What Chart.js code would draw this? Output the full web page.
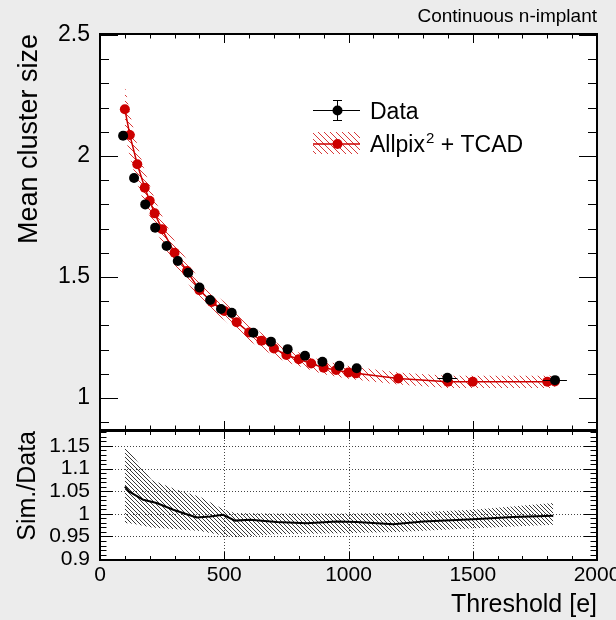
<!DOCTYPE html>
<html>
<head>
<meta charset="utf-8">
<script src="https://cdn.jsdelivr.net/npm/chart.js@4.4.1/dist/chart.umd.min.js"></script>
<style>
  html, body { margin: 0; padding: 0; background: #ececec; }
  #wrap { position: relative; width: 616px; height: 620px; overflow: hidden; font-family: 'Liberation Sans', Arial, sans-serif; }
  canvas { position: absolute; left: 0; top: 0; }
  #label { position: absolute; right: 19px; top: 6px; font-size: 19px; line-height: 19px; color: #000; }
</style>
</head>
<body>
<div id="wrap">
  <canvas id="upper" width="616" height="620"></canvas>
  <canvas id="lower" width="616" height="620"></canvas>
  <div id="label">Continuous n-implant</div>
</div>
<script>
// measured data (threshold in electrons)
const dataX = [93, 137, 182, 222, 268, 313, 355, 400, 443, 487, 530, 617, 688, 755, 825, 895, 963, 1033, 1398, 1831];
const dataY = [2.084, 1.909, 1.800, 1.704, 1.628, 1.566, 1.518, 1.457, 1.405, 1.368, 1.352, 1.270, 1.233, 1.202, 1.175, 1.150, 1.133, 1.123, 1.084, 1.074];
const dataXErr = [0, 0, 0, 0, 0, 0, 0, 0, 0, 0, 0, 8, 10, 12, 14, 14, 15, 16, 40, 48];
const dataYErr = [0.005, 0.005, 0.005, 0.005, 0.005, 0.005, 0.005, 0.005, 0.005, 0.005, 0.005, 0.004, 0.004, 0.004, 0.004, 0.004, 0.004, 0.004, 0.004, 0.004];

// simulation (Allpix^2 + TCAD)
const simX = [100, 120, 150, 180, 200, 220, 250, 300, 350, 400, 450, 500, 550, 600, 650, 700, 750, 800, 850, 900, 950, 1000, 1030, 1200, 1400, 1500, 1800, 1830];
const simY = [2.193, 2.087, 1.966, 1.869, 1.815, 1.763, 1.697, 1.600, 1.525, 1.446, 1.397, 1.360, 1.313, 1.271, 1.237, 1.205, 1.178, 1.160, 1.143, 1.125, 1.116, 1.106, 1.102, 1.081, 1.067, 1.067, 1.067, 1.068];
const simErr = [0.10, 0.09, 0.08, 0.07, 0.065, 0.06, 0.055, 0.05, 0.045, 0.04, 0.04, 0.038, 0.036, 0.034, 0.032, 0.03, 0.03, 0.028, 0.028, 0.027, 0.027, 0.026, 0.026, 0.025, 0.025, 0.025, 0.025, 0.025];

// ratio panel
const ratioX = [100, 118, 174, 228, 295, 349, 389, 443, 496, 543, 604, 711, 832, 952, 1033, 1180, 1301, 1502, 1663, 1824];
const ratioY = [1.060, 1.049, 1.031, 1.024, 1.009, 0.999, 0.992, 0.994, 0.998, 0.985, 0.987, 0.982, 0.979, 0.983, 0.982, 0.977, 0.983, 0.988, 0.993, 0.996];
const bandX = [100, 134, 208, 309, 402, 496, 543, 700, 966, 1200, 1502, 1824];
const bandHi = [1.150, 1.127, 1.075, 1.053, 1.038, 1.010, 1.002, 1.001, 1.001, 1.002, 1.009, 1.024];
const bandLo = [0.980, 0.978, 0.970, 0.966, 0.962, 0.952, 0.948, 0.955, 0.957, 0.960, 0.968, 0.976];

const RED = '#cc0000';
const FONT = "'Liberation Sans', Arial, sans-serif";
Chart.defaults.font.family = FONT;
Chart.defaults.color = '#000';

const pts = (xs, ys) => xs.map((x, i) => ({ x: x, y: ys[i] }));

function hatch(color, gap, width) {
	const c = document.createElement('canvas');
	c.width = gap;
	c.height = gap;
	const g = c.getContext('2d');
	g.strokeStyle = color;
	g.lineWidth = width;
	g.beginPath();
	for (let k = -1; k <= 1; k++) {
		g.moveTo(-1, -1 + k * gap);
		g.lineTo(gap + 1, gap + 1 + k * gap);
	}
	g.stroke();
	return g.createPattern(c, 'repeat');
}
const redHatch = hatch('#d42020', 6, 0.9);
const blackHatch = hatch('#222', 4, 0.9);

function steps(min, max, step) {
	const out = [];
	for (let i = Math.ceil(min / step - 1e-9); i * step <= max + 1e-9; i++) out.push(i * step);
	return out;
}
const isMajor = (v, m) => Math.abs(v / m - Math.round(v / m)) < 1e-6;

// white pad, dotted grid, inner ticks and frame (ROOT style)
function axisDeco(cfg) {
	return {
		id: 'axisDeco',
		beforeDatasetsDraw(chart) {
			const { ctx, chartArea: a, scales: { x, y } } = chart;
			ctx.save();
			ctx.fillStyle = '#fff';
			ctx.fillRect(a.left, a.top, a.right - a.left, a.bottom - a.top);
			if (cfg.grid) {
				ctx.strokeStyle = '#444';
				ctx.lineWidth = 1;
				ctx.setLineDash([1, 2]);
				ctx.beginPath();
				x.ticks.forEach((t) => {
					const p = Math.round(x.getPixelForValue(t.value)) + 0.5;
					ctx.moveTo(p, a.top);
					ctx.lineTo(p, a.bottom);
				});
				y.ticks.forEach((t) => {
					const p = Math.round(y.getPixelForValue(t.value)) + 0.5;
					ctx.moveTo(a.left, p);
					ctx.lineTo(a.right, p);
				});
				ctx.stroke();
			}
			ctx.restore();
		},
		afterDatasetsDraw(chart) {
			const { ctx, chartArea: a, scales: { x, y } } = chart;
			ctx.save();
			ctx.strokeStyle = '#000';
			ctx.lineWidth = 1;
			ctx.beginPath();
			steps(x.min, x.max, cfg.xMinor).forEach((v) => {
				const p = Math.round(x.getPixelForValue(v)) + 0.5;
				const len = isMajor(v, cfg.xMajor) ? cfg.xLen[0] : cfg.xLen[1];
				ctx.moveTo(p, a.top);
				ctx.lineTo(p, a.top + len);
				ctx.moveTo(p, a.bottom);
				ctx.lineTo(p, a.bottom - len);
			});
			steps(y.min, y.max, cfg.yMinor).forEach((v) => {
				const p = Math.round(y.getPixelForValue(v)) + 0.5;
				const len = isMajor(v, cfg.yMajor) ? cfg.yLen[0] : cfg.yLen[1];
				ctx.moveTo(a.left, p);
				ctx.lineTo(a.left + len, p);
				ctx.moveTo(a.right, p);
				ctx.lineTo(a.right - len, p);
			});
			ctx.stroke();
			ctx.lineWidth = 2;
			ctx.strokeRect(a.left, a.top, a.right - a.left, a.bottom - a.top);
			ctx.restore();
		},
	};
}

// error bars of the data points, drawn just under the markers
const errorBars = {
	id: 'errorBars',
	beforeDatasetDraw(chart, args) {
		if (args.index !== 0) return;
		const { ctx, scales: { x, y } } = chart;
		ctx.save();
		ctx.strokeStyle = '#000';
		ctx.lineWidth = 1;
		ctx.beginPath();
		dataX.forEach((v, i) => {
			const px = x.getPixelForValue(v);
			const py = Math.round(y.getPixelForValue(dataY[i])) + 0.5;
			if (dataXErr[i] > 0) {
				ctx.moveTo(x.getPixelForValue(v - dataXErr[i]), py);
				ctx.lineTo(x.getPixelForValue(v + dataXErr[i]), py);
			}
			ctx.moveTo(px, y.getPixelForValue(dataY[i] - dataYErr[i]));
			ctx.lineTo(px, y.getPixelForValue(dataY[i] + dataYErr[i]));
		});
		ctx.stroke();
		ctx.restore();
	},
};

function dot(ctx, x, y, r, color) {
	ctx.fillStyle = color;
	ctx.beginPath();
	ctx.arc(x, y, r, 0, Math.PI * 2);
	ctx.fill();
}

const legendBox = {
	id: 'legendBox',
	afterDraw(chart) {
		const ctx = chart.ctx;
		ctx.save();
		// Data
		ctx.strokeStyle = '#000';
		ctx.lineWidth = 1;
		ctx.beginPath();
		ctx.moveTo(313, 110.5);
		ctx.lineTo(360, 110.5);
		ctx.moveTo(337.5, 100.5);
		ctx.lineTo(337.5, 120.5);
		ctx.moveTo(333, 100.5);
		ctx.lineTo(342, 100.5);
		ctx.moveTo(333, 120.5);
		ctx.lineTo(342, 120.5);
		ctx.stroke();
		dot(ctx, 337.5, 110.5, 5, '#000');
		// simulation
		ctx.fillStyle = redHatch;
		ctx.fillRect(313, 132, 47, 22);
		ctx.strokeStyle = RED;
		ctx.lineWidth = 1.5;
		ctx.beginPath();
		ctx.moveTo(313, 144);
		ctx.lineTo(360, 144);
		ctx.stroke();
		dot(ctx, 337.5, 144, 5, RED);
		// texts
		ctx.fillStyle = '#000';
		ctx.textBaseline = 'alphabetic';
		ctx.font = '23px ' + FONT;
		ctx.fillText('Data', 370, 119);
		ctx.fillText('Allpix', 370, 152);
		let w = ctx.measureText('Allpix').width;
		ctx.font = '15px ' + FONT;
		ctx.fillText('2', 370 + w + 1, 143);
		w += ctx.measureText('2').width + 1;
		ctx.font = '23px ' + FONT;
		ctx.fillText(' + TCAD', 370 + w, 152);
		ctx.restore();
	},
};

const numLabel = (v) => String(+Number(v).toFixed(2));

new Chart(document.getElementById('upper'), {
	type: 'line',
	data: {
		datasets: [
			{
				label: 'Data',
				data: pts(dataX, dataY),
				showLine: false,
				pointRadius: 5,
				pointBackgroundColor: '#000',
				pointBorderColor: '#000',
				pointBorderWidth: 0,
			},
			{
				label: 'Allpix2 + TCAD',
				data: pts(simX, simY),
				borderColor: RED,
				borderWidth: 1.5,
				pointRadius: 5,
				pointBackgroundColor: RED,
				pointBorderColor: RED,
				pointBorderWidth: 0,
				fill: false,
			},
			{
				label: 'sim up',
				data: pts(simX, simY.map((v, i) => v + simErr[i])),
				borderColor: 'rgba(0,0,0,0)',
				borderWidth: 0,
				pointRadius: 0,
				backgroundColor: redHatch,
				fill: '+1',
			},
			{
				label: 'sim down',
				data: pts(simX, simY.map((v, i) => v - simErr[i])),
				borderColor: 'rgba(0,0,0,0)',
				borderWidth: 0,
				pointRadius: 0,
				fill: false,
			},
		],
	},
	options: {
		responsive: false,
		animation: false,
		devicePixelRatio: 1,
		layout: { padding: { top: 34, right: 19, bottom: 190, left: 0 } },
		elements: { line: { tension: 0 } },
		plugins: { legend: { display: false }, tooltip: { enabled: false } },
		scales: {
			x: { type: 'linear', min: 0, max: 2000, display: false },
			y: {
				type: 'linear',
				min: 0.868,
				max: 2.504,
				afterFit: (s) => {
					s.width = 100;
					s.paddingTop = 0;
					s.paddingBottom = 0;
				},
				grid: { display: false, drawTicks: false },
				border: { display: false },
				ticks: { stepSize: 0.5, includeBounds: false, autoSkip: false, padding: 10, color: '#000', font: { size: 23 }, callback: numLabel },
				title: { display: true, text: 'Mean cluster size', align: 'end', color: '#000', font: { size: 27 }, padding: { top: 13, bottom: 0 } },
			},
		},
	},
	plugins: [axisDeco({ xMinor: 100, xMajor: 500, xLen: [9, 4.5], yMinor: 0.1, yMajor: 0.5, yLen: [18, 9] }), errorBars, legendBox],
});

new Chart(document.getElementById('lower'), {
	type: 'line',
	data: {
		datasets: [
			{
				label: 'Sim./Data',
				data: pts(ratioX, ratioY),
				borderColor: '#000',
				borderWidth: 2,
				pointRadius: 0,
				fill: false,
			},
			{
				label: 'band up',
				data: pts(bandX, bandHi),
				borderColor: 'rgba(0,0,0,0)',
				borderWidth: 0,
				pointRadius: 0,
				backgroundColor: blackHatch,
				fill: '+1',
			},
			{
				label: 'band down',
				data: pts(bandX, bandLo),
				borderColor: 'rgba(0,0,0,0)',
				borderWidth: 0,
				pointRadius: 0,
				fill: false,
			},
		],
	},
	options: {
		responsive: false,
		animation: false,
		devicePixelRatio: 1,
		layout: { padding: { top: 431, right: 19, bottom: 0, left: 0 } },
		elements: { line: { tension: 0 } },
		plugins: { legend: { display: false }, tooltip: { enabled: false } },
		scales: {
			x: {
				type: 'linear',
				min: 0,
				max: 2000,
				afterFit: (s) => {
					s.height = 60;
					s.paddingLeft = 0;
					s.paddingRight = 0;
				},
				grid: { display: false, drawTicks: false },
				border: { display: false },
				ticks: { stepSize: 500, autoSkip: false, maxRotation: 0, padding: 3, color: '#000', font: { size: 21 }, callback: (v) => String(v) },
				title: { display: true, text: 'Threshold [e]', align: 'end', color: '#000', font: { size: 25 }, padding: { top: 0, bottom: 0 } },
			},
			y: {
				type: 'linear',
				min: 0.898,
				max: 1.183,
				afterFit: (s) => {
					s.width = 100;
					s.paddingTop = 0;
					s.paddingBottom = 0;
				},
				grid: { display: false, drawTicks: false },
				border: { display: false },
				ticks: { stepSize: 0.05, includeBounds: false, autoSkip: false, padding: 10, color: '#000', font: { size: 21 }, callback: numLabel },
				title: { display: true, text: 'Sim./Data', align: 'end', color: '#000', font: { size: 25 }, padding: { top: 13, bottom: 0 } },
			},
		},
	},
	plugins: [axisDeco({ grid: true, xMinor: 100, xMajor: 500, xLen: [8, 4], yMinor: 0.01, yMajor: 0.05, yLen: [13, 6.5] })],
});
</script>
</body>
</html>
